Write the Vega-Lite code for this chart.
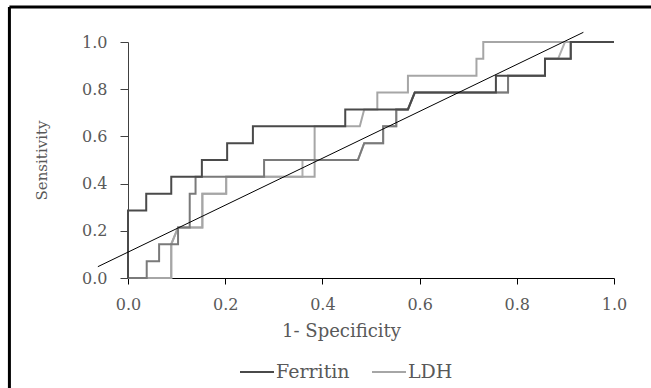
{
  "$schema": "https://vega.github.io/schema/vega-lite/v6.json",
  "width": 486,
  "height": 236,
  "autosize": "none",
  "padding": {"left": 128, "top": 42, "right": 37, "bottom": 110},
  "background": "white",
  "config": {"view": {"stroke": null}, "font": "DejaVu Serif"},
  "datasets": {
    "roc": [
      {"s": "Ferritin", "i": 1, "x": 0, "y": 0},
      {"s": "Ferritin", "i": 2, "x": 0, "y": 0.286},
      {"s": "Ferritin", "i": 3, "x": 0.0375, "y": 0.286},
      {"s": "Ferritin", "i": 4, "x": 0.0375, "y": 0.357},
      {"s": "Ferritin", "i": 5, "x": 0.089, "y": 0.357},
      {"s": "Ferritin", "i": 6, "x": 0.089, "y": 0.429},
      {"s": "Ferritin", "i": 7, "x": 0.152, "y": 0.429},
      {"s": "Ferritin", "i": 8, "x": 0.152, "y": 0.5},
      {"s": "Ferritin", "i": 9, "x": 0.204, "y": 0.5},
      {"s": "Ferritin", "i": 10, "x": 0.204, "y": 0.571},
      {"s": "Ferritin", "i": 11, "x": 0.257, "y": 0.571},
      {"s": "Ferritin", "i": 12, "x": 0.257, "y": 0.643},
      {"s": "Ferritin", "i": 13, "x": 0.447, "y": 0.643},
      {"s": "Ferritin", "i": 14, "x": 0.447, "y": 0.714},
      {"s": "Ferritin", "i": 15, "x": 0.576, "y": 0.714},
      {"s": "Ferritin", "i": 16, "x": 0.59, "y": 0.786},
      {"s": "Ferritin", "i": 17, "x": 0.757, "y": 0.786},
      {"s": "Ferritin", "i": 18, "x": 0.757, "y": 0.857},
      {"s": "Ferritin", "i": 19, "x": 0.858, "y": 0.857},
      {"s": "Ferritin", "i": 20, "x": 0.858, "y": 0.929},
      {"s": "Ferritin", "i": 21, "x": 0.911, "y": 0.929},
      {"s": "Ferritin", "i": 22, "x": 0.911, "y": 1},
      {"s": "Ferritin", "i": 23, "x": 1, "y": 1},
      {"s": "Ferritin2", "i": 1, "x": 0, "y": 0},
      {"s": "Ferritin2", "i": 2, "x": 0.0385, "y": 0},
      {"s": "Ferritin2", "i": 3, "x": 0.0385, "y": 0.071},
      {"s": "Ferritin2", "i": 4, "x": 0.064, "y": 0.071},
      {"s": "Ferritin2", "i": 5, "x": 0.064, "y": 0.143},
      {"s": "Ferritin2", "i": 6, "x": 0.103, "y": 0.143},
      {"s": "Ferritin2", "i": 7, "x": 0.103, "y": 0.214},
      {"s": "Ferritin2", "i": 8, "x": 0.127, "y": 0.214},
      {"s": "Ferritin2", "i": 9, "x": 0.127, "y": 0.357},
      {"s": "Ferritin2", "i": 10, "x": 0.139, "y": 0.357},
      {"s": "Ferritin2", "i": 11, "x": 0.139, "y": 0.429},
      {"s": "Ferritin2", "i": 12, "x": 0.28, "y": 0.429},
      {"s": "Ferritin2", "i": 13, "x": 0.28, "y": 0.5},
      {"s": "Ferritin2", "i": 14, "x": 0.473, "y": 0.5},
      {"s": "Ferritin2", "i": 15, "x": 0.486, "y": 0.571},
      {"s": "Ferritin2", "i": 16, "x": 0.525, "y": 0.571},
      {"s": "Ferritin2", "i": 17, "x": 0.525, "y": 0.643},
      {"s": "Ferritin2", "i": 18, "x": 0.552, "y": 0.643},
      {"s": "Ferritin2", "i": 19, "x": 0.552, "y": 0.714},
      {"s": "Ferritin2", "i": 20, "x": 0.576, "y": 0.714},
      {"s": "Ferritin2", "i": 21, "x": 0.59, "y": 0.786},
      {"s": "Ferritin2", "i": 22, "x": 0.782, "y": 0.786},
      {"s": "Ferritin2", "i": 23, "x": 0.782, "y": 0.857},
      {"s": "Ferritin2", "i": 24, "x": 0.858, "y": 0.857},
      {"s": "Ferritin2", "i": 25, "x": 0.858, "y": 0.929},
      {"s": "Ferritin2", "i": 26, "x": 0.911, "y": 0.929},
      {"s": "Ferritin2", "i": 27, "x": 0.911, "y": 1},
      {"s": "Ferritin2", "i": 28, "x": 1, "y": 1},
      {"s": "LDH", "i": 1, "x": 0, "y": 0},
      {"s": "LDH", "i": 2, "x": 0.089, "y": 0},
      {"s": "LDH", "i": 3, "x": 0.089, "y": 0.143},
      {"s": "LDH", "i": 4, "x": 0.103, "y": 0.214},
      {"s": "LDH", "i": 5, "x": 0.153, "y": 0.214},
      {"s": "LDH", "i": 6, "x": 0.153, "y": 0.357},
      {"s": "LDH", "i": 7, "x": 0.202, "y": 0.357},
      {"s": "LDH", "i": 8, "x": 0.202, "y": 0.429},
      {"s": "LDH", "i": 9, "x": 0.384, "y": 0.429},
      {"s": "LDH", "i": 10, "x": 0.384, "y": 0.643},
      {"s": "LDH", "i": 11, "x": 0.477, "y": 0.643},
      {"s": "LDH", "i": 12, "x": 0.486, "y": 0.714},
      {"s": "LDH", "i": 13, "x": 0.513, "y": 0.714},
      {"s": "LDH", "i": 14, "x": 0.513, "y": 0.786},
      {"s": "LDH", "i": 15, "x": 0.576, "y": 0.786},
      {"s": "LDH", "i": 16, "x": 0.576, "y": 0.857},
      {"s": "LDH", "i": 17, "x": 0.717, "y": 0.857},
      {"s": "LDH", "i": 18, "x": 0.717, "y": 0.929},
      {"s": "LDH", "i": 19, "x": 0.731, "y": 0.929},
      {"s": "LDH", "i": 20, "x": 0.731, "y": 1},
      {"s": "LDH", "i": 21, "x": 1, "y": 1},
      {"s": "LDH2", "i": 1, "x": 0, "y": 0},
      {"s": "LDH2", "i": 2, "x": 0.089, "y": 0},
      {"s": "LDH2", "i": 3, "x": 0.089, "y": 0.143},
      {"s": "LDH2", "i": 4, "x": 0.103, "y": 0.214},
      {"s": "LDH2", "i": 5, "x": 0.153, "y": 0.214},
      {"s": "LDH2", "i": 6, "x": 0.153, "y": 0.357},
      {"s": "LDH2", "i": 7, "x": 0.202, "y": 0.357},
      {"s": "LDH2", "i": 8, "x": 0.202, "y": 0.429},
      {"s": "LDH2", "i": 9, "x": 0.359, "y": 0.429},
      {"s": "LDH2", "i": 10, "x": 0.359, "y": 0.5},
      {"s": "LDH2", "i": 11, "x": 0.473, "y": 0.5},
      {"s": "LDH2", "i": 12, "x": 0.486, "y": 0.571},
      {"s": "LDH2", "i": 13, "x": 0.525, "y": 0.571},
      {"s": "LDH2", "i": 14, "x": 0.525, "y": 0.643},
      {"s": "LDH2", "i": 15, "x": 0.552, "y": 0.643},
      {"s": "LDH2", "i": 16, "x": 0.552, "y": 0.714},
      {"s": "LDH2", "i": 17, "x": 0.576, "y": 0.714},
      {"s": "LDH2", "i": 18, "x": 0.59, "y": 0.786},
      {"s": "LDH2", "i": 19, "x": 0.782, "y": 0.786},
      {"s": "LDH2", "i": 20, "x": 0.782, "y": 0.857},
      {"s": "LDH2", "i": 21, "x": 0.858, "y": 0.857},
      {"s": "LDH2", "i": 22, "x": 0.858, "y": 0.929},
      {"s": "LDH2", "i": 23, "x": 0.885, "y": 0.929},
      {"s": "LDH2", "i": 24, "x": 0.899, "y": 1},
      {"s": "LDH2", "i": 25, "x": 1, "y": 1}
    ],
    "trend": [
      {"x": -0.062, "y": 0.048},
      {"x": 0.937, "y": 1.041}
    ],
    "frame": [
      {"x": -0.244, "x2": 1.08, "y": 1.148, "y2": 1.148},
      {"x": -0.244, "x2": -0.244, "y": 1.148, "y2": -0.47}
    ]
  },
  "encoding": {
    "x": {
      "field": "x", "type": "quantitative",
      "scale": {"domain": [0, 1], "nice": false, "zero": false},
      "axis": {
        "title": "1- Specificity", "values": [0, 0.2, 0.4, 0.6, 0.8, 1], "format": ".1f", "labelFlush": false,
        "grid": false, "domainColor": "#000000", "domainWidth": 1, "tickColor": "#000000", "tickSize": 6,
        "labelFont": "DejaVu Serif", "labelFontSize": 16, "labelColor": "#595959", "labelPadding": 12,
        "titleFont": "DejaVu Serif", "titleFontSize": 18, "titleFontWeight": "normal", "titleColor": "#595959", "titlePadding": 10, "titleX": 213
      }
    },
    "y": {
      "field": "y", "type": "quantitative",
      "scale": {"domain": [0, 1], "nice": false, "zero": false},
      "axis": {
        "title": "Sensitivity", "values": [0, 0.2, 0.4, 0.6, 0.8, 1], "format": ".1f", "labelFlush": false,
        "grid": false, "domainColor": "#404040", "domainWidth": 1, "tickColor": "#404040", "tickSize": 8,
        "labelFont": "DejaVu Serif", "labelFontSize": 16, "labelColor": "#595959", "labelPadding": 13,
        "titleFont": "DejaVu Serif", "titleFontSize": 15, "titleFontWeight": "normal", "titleColor": "#595959", "titlePadding": 32
      }
    }
  },
  "layer": [
    {
      "data": {"name": "frame"},
      "mark": {"type": "rule", "color": "#000000", "strokeWidth": 3, "clip": false},
      "encoding": {
        "x": {"field": "x", "type": "quantitative"},
        "x2": {"field": "x2"},
        "y": {"field": "y", "type": "quantitative"},
        "y2": {"field": "y2"}
      }
    },
    {
      "data": {"name": "roc"},
      "transform": [{"filter": "datum.s === 'LDH2'"}],
      "mark": {"type": "line", "strokeWidth": 2},
      "encoding": {
        "order": {"field": "i", "type": "quantitative"},
        "color": {
          "field": "s", "type": "nominal",
          "scale": {"domain": ["Ferritin", "LDH", "Ferritin2", "LDH2"], "range": ["#4a4a4a", "#a6a6a6", "#7a7a7a", "#b0b0b0"]},
          "legend": {
            "values": ["Ferritin", "LDH"], "title": null, "orient": "none", "legendX": 111, "legendY": 312,
            "direction": "horizontal", "symbolType": "stroke", "symbolSize": 1156, "symbolStrokeWidth": 2,
            "labelFont": "DejaVu Serif", "labelFontSize": 19, "labelColor": "#595959", "labelOffset": 1, "columnPadding": 18
          }
        }
      }
    },
    {
      "data": {"name": "roc"},
      "transform": [{"filter": "datum.s === 'LDH'"}],
      "mark": {"type": "line", "strokeWidth": 2},
      "encoding": {
        "order": {"field": "i", "type": "quantitative"},
        "color": {"field": "s", "type": "nominal"}
      }
    },
    {
      "data": {"name": "roc"},
      "transform": [{"filter": "datum.s === 'Ferritin2'"}],
      "mark": {"type": "line", "strokeWidth": 2},
      "encoding": {
        "order": {"field": "i", "type": "quantitative"},
        "color": {"field": "s", "type": "nominal"}
      }
    },
    {
      "data": {"name": "roc"},
      "transform": [{"filter": "datum.s === 'Ferritin'"}],
      "mark": {"type": "line", "strokeWidth": 2},
      "encoding": {
        "order": {"field": "i", "type": "quantitative"},
        "color": {"field": "s", "type": "nominal"}
      }
    },
    {
      "data": {"name": "trend"},
      "mark": {"type": "line", "color": "#000000", "strokeWidth": 1, "clip": false},
      "encoding": {}
    }
  ]
}
